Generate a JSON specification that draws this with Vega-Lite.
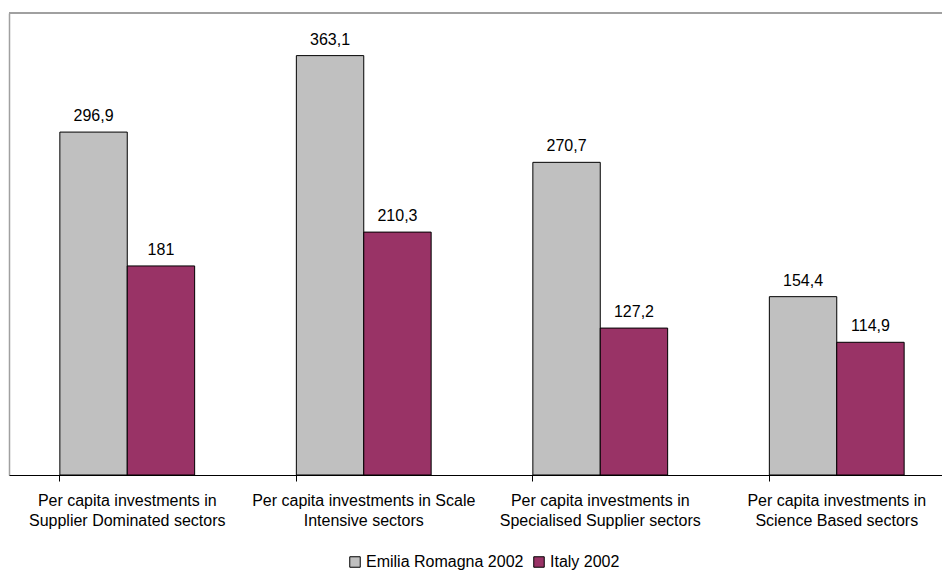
{
  "$schema": "https://vega.github.io/schema/vega-lite/v6.json",
  "width": 933,
  "height": 462,
  "padding": {"left": 9, "top": 13, "right": 0, "bottom": 95},
  "autosize": {"type": "none"},
  "background": "white",
  "config": {
    "font": "Liberation Sans",
    "view": {"stroke": null}
  },
  "data": {
    "values": [
      {"sector": "Per capita investments in|Supplier Dominated sectors", "series": "Emilia Romagna  2002", "value": 296.9, "label": "296,9"},
      {"sector": "Per capita investments in|Supplier Dominated sectors", "series": "Italy 2002", "value": 181, "label": "181"},
      {"sector": "Per capita investments in Scale|Intensive sectors", "series": "Emilia Romagna  2002", "value": 363.1, "label": "363,1"},
      {"sector": "Per capita investments in Scale|Intensive sectors", "series": "Italy 2002", "value": 210.3, "label": "210,3"},
      {"sector": "Per capita investments in|Specialised Supplier sectors", "series": "Emilia Romagna  2002", "value": 270.7, "label": "270,7"},
      {"sector": "Per capita investments in|Specialised Supplier sectors", "series": "Italy 2002", "value": 127.2, "label": "127,2"},
      {"sector": "Per capita investments in|Science Based sectors", "series": "Emilia Romagna  2002", "value": 154.4, "label": "154,4"},
      {"sector": "Per capita investments in|Science Based sectors", "series": "Italy 2002", "value": 114.9, "label": "114,9"}
    ]
  },
  "layer": [
    {
      "mark": {"type": "rule", "color": "#a0a0a0", "strokeWidth": 1.5},
      "encoding": {
        "y": {"datum": 400, "type": "quantitative", "scale": {"domain": [0, 400], "nice": false}}
      }
    },
    {
      "encoding": {
        "x": {
          "field": "sector", "type": "nominal", "sort": null,
          "scale": {"range": [0, 946], "paddingInner": 0.43, "paddingOuter": 0.215},
          "axis": {
            "title": null,
            "labelAngle": 0,
            "labelExpr": "split(datum.label, '|')",
            "labelFontSize": 16,
            "labelColor": "black",
            "labelLimit": 0,
            "labelPadding": 11,
            "labelLineHeight": 20,
            "labelOverlap": false,
            "labelBound": false,
            "labelFlush": false,
            "bandPosition": 0,
            "ticks": true,
            "tickColor": "black",
            "tickSize": 6,
            "tickWidth": 1,
            "domainColor": "black",
            "domainWidth": 1,
            "zindex": 1
          }
        },
        "xOffset": {"field": "series", "type": "nominal", "sort": null},
        "y": {
          "field": "value", "type": "quantitative",
          "scale": {"domain": [0, 400], "nice": false},
          "axis": {
            "title": null,
            "labels": false,
            "ticks": false,
            "grid": false,
            "domain": true,
            "domainColor": "#a0a0a0",
            "domainWidth": 1.5
          }
        }
      },
      "layer": [
        {
          "mark": {"type": "bar", "stroke": "black", "strokeWidth": 1},
          "encoding": {
            "color": {
              "field": "series", "type": "nominal", "sort": null,
              "scale": {"domain": ["Emilia Romagna  2002", "Italy 2002"], "range": ["#C0C0C0", "#993366"]},
              "legend": {
                "title": null,
                "orient": "none",
                "direction": "horizontal",
                "legendX": 338,
                "legendY": 541,
                "symbolType": "square",
                "symbolSize": 110,
                "symbolStrokeColor": "black",
                "symbolStrokeWidth": 1,
                "labelFontSize": 16,
                "labelLimit": 0,
                "labelColor": "black",
                "columnPadding": 3,
                "labelOffset": 3
              }
            }
          }
        },
        {
          "mark": {"type": "text", "baseline": "alphabetic", "dy": -11, "fontSize": 16, "color": "black"},
          "encoding": {"text": {"field": "label"}}
        }
      ]
    }
  ]
}
